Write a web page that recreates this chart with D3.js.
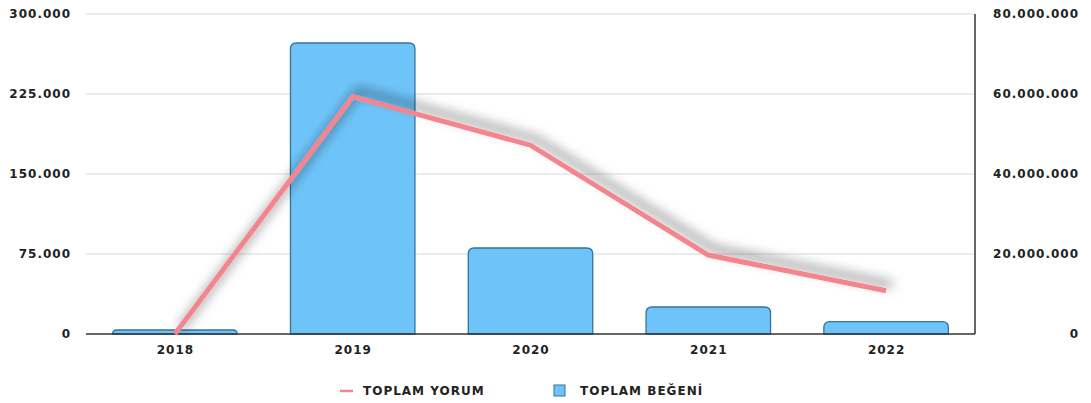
<!DOCTYPE html>
<html><head><meta charset="utf-8">
<script src="https://cdn.jsdelivr.net/npm/d3@7/dist/d3.min.js"></script>
<style>
body{margin:0;background:#fff;}
text{font-family:"DejaVu Sans",sans-serif;font-weight:bold;fill:#222;letter-spacing:1px;}
</style></head>
<body><svg id="c" width="1091" height="403"></svg>
<script>
const years = ["2018","2019","2020","2021","2022"];
const yorum = [0, 222500, 177000, 74000, 40600];          // line, left axis
const begeni = [1000000, 72750000, 21500000, 6750000, 3100000]; // bars, right axis
const leftTicks = [0, 75000, 150000, 225000, 300000];
const rightTicks = [0, 20000000, 40000000, 60000000, 80000000];
const seriesNames = ["TOPLAM YORUM", "TOPLAM BEĞENİ"];

const svg = d3.select("#c");
const L = 86, R = 975, T = 14, B = 334;
const fmt = v => d3.format(",")(v).replace(/,/g, ".");

const x = d3.scaleBand().domain(years).range([L, R]).paddingInner(0.3).paddingOuter(0.15);
const yL = d3.scaleLinear().domain([0, 300000]).range([B, T]);
const yR = d3.scaleLinear().domain([0, 80000000]).range([B, T]);

const defs = svg.append("defs");
const f = defs.append("filter").attr("id","sh").attr("x","-20%").attr("y","-40%").attr("width","140%").attr("height","180%");
f.append("feDropShadow").attr("dx",6).attr("dy",-6).attr("stdDeviation",6).attr("flood-color","#000").attr("flood-opacity",0.55);

// gridlines
svg.append("g").selectAll("line").data(leftTicks.filter(d=>d>0)).join("line")
  .attr("x1",L).attr("x2",R).attr("y1",d=>yL(d)).attr("y2",d=>yL(d))
  .attr("stroke","#d9d9d9").attr("stroke-width",1);

// left labels
svg.append("g").selectAll("text").data(leftTicks).join("text")
  .attr("x",71).attr("y",d=>yL(d)).attr("dy","0.35em").attr("text-anchor","end")
  .attr("font-size",12).text(fmt);
// right labels
svg.append("g").selectAll("text").data(rightTicks).join("text")
  .attr("x",1079).attr("y",d=>yR(d)).attr("dy","0.35em").attr("text-anchor","end")
  .attr("font-size",12).text(fmt);

// bars with rounded top
const r = 6;
svg.append("g").selectAll("path").data(years).join("path")
  .attr("d",(d,i)=>{
    const x0 = x(d), w = x.bandwidth(), y0 = yR(begeni[i]);
    const h = B - y0; const rr = Math.min(r, h, w/2);
    return `M${x0},${B}V${y0+rr}Q${x0},${y0} ${x0+rr},${y0}H${x0+w-rr}Q${x0+w},${y0} ${x0+w},${y0+rr}V${B}Z`;
  })
  .attr("fill","#6ec4f9").attr("stroke","#34739c").attr("stroke-width",1.3);

// baseline and right axis
svg.append("line").attr("x1",L).attr("x2",R).attr("y1",B).attr("y2",B).attr("stroke","#333").attr("stroke-width",1.5);
svg.append("line").attr("x1",R).attr("x2",R).attr("y1",T).attr("y2",B).attr("stroke","#333").attr("stroke-width",1.5);

// x labels
svg.append("g").selectAll("text").data(years).join("text")
  .attr("x",d=>x(d)+x.bandwidth()/2+0.5).attr("y",354).attr("text-anchor","middle")
  .attr("font-size",12).text(d=>d);

// line
const line = d3.line().x((d,i)=>x(years[i])+x.bandwidth()/2).y(d=>yL(d));
svg.append("path").datum(yorum).attr("d",line).attr("fill","none")
  .attr("stroke","#f2858e").attr("stroke-width",5).attr("stroke-linejoin","miter")
  .attr("filter","url(#sh)");

// legend
const lg = svg.append("g");
lg.append("line").attr("x1",340).attr("x2",353).attr("y1",391).attr("y2",391).attr("stroke","#f2858e").attr("stroke-width",2.5);
lg.append("text").attr("x",363).attr("y",391).attr("dy","0.35em").attr("font-size",12).text(seriesNames[0]);
lg.append("rect").attr("x",554).attr("y",385).attr("width",11).attr("height",11).attr("fill","#6ec4f9").attr("stroke","#34739c").attr("stroke-width",1);
lg.append("text").attr("x",580).attr("y",391).attr("dy","0.35em").attr("font-size",12).text(seriesNames[1]);
</script></body></html>
